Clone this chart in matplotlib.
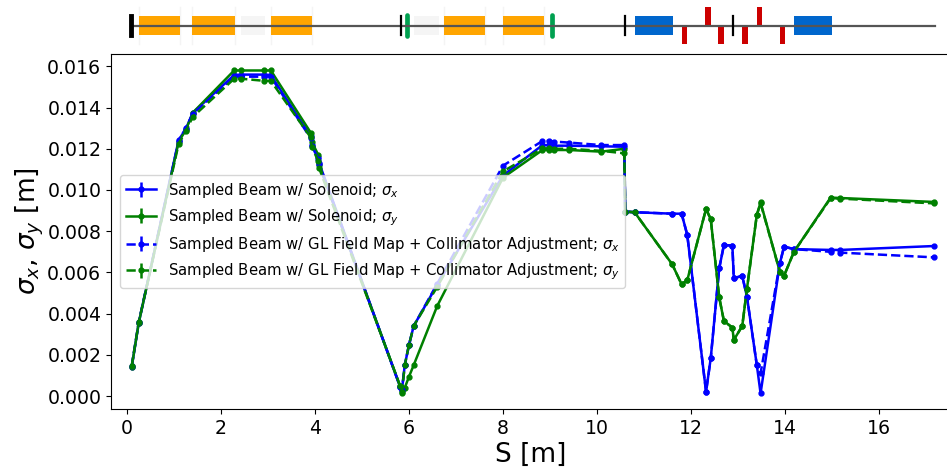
import matplotlib
matplotlib.use("Agg")
import matplotlib.pyplot as plt
from matplotlib.patches import Rectangle

# s positions of the sampled points
s_pos = [0.10, 0.25, 1.10, 1.25, 1.40, 2.28, 2.43, 2.91, 3.06, 3.91, 3.93, 4.07, 4.09,
         5.81, 5.85, 5.91, 6.00, 6.10, 6.60, 8.00, 8.84, 8.98, 9.08, 9.41, 10.09, 10.58,
         10.60, 10.80, 11.60, 11.80, 11.92, 12.32, 12.42, 12.60, 12.70, 12.88, 12.91,
         13.09, 13.19, 13.40, 13.48, 13.89, 13.98, 14.19, 14.97, 15.18, 17.17]

sx_sol = [.00140, .00355, .01243, .01295, .01375, .01558, .01560, .01560, .01558, .01260, .01220, .01160, .01130,
          .00045, .00030, .00150, .00248, .00340, .00540, .01070, .01218, .01218, .01215, .01215, .01212, .01210,
          .00895, .00892, .00885, .00885, .00782, .00021, .00184, .00620, .00733, .00730, .00572,
          .00583, .00482, .00150, .00013, .00644, .00725, .00713, .00709, .00709, .00728]
sy_sol = [.00140, .00355, .01235, .01290, .01375, .01580, .01580, .01580, .01580, .01278, .01235, .01170, .01120,
          .00048, .00015, .00040, .00094, .00150, .00437, .01060, .01194, .01194, .01194, .01194, .01186, .01200,
          .00895, .00892, .00639, .00542, .00562, .00908, .00858, .00479, .00364, .00332, .00272,
          .00340, .00520, .00879, .00940, .00603, .00584, .00700, .00963, .00961, .00942]
sx_gl = [.00145, .00358, .01240, .01300, .01370, .01550, .01550, .01550, .01550, .01250, .01215, .01150, .01125,
         .00045, .00030, .00150, .00248, .00340, .00545, .01118, .01238, .01238, .01235, .01230, .01218, .01218,
         .00895, .00892, .00885, .00885, .00782, .00021, .00184, .00620, .00733, .00730, .00572,
         .00583, .00482, .00150, .00110, .00644, .00725, .00713, .00700, .00696, .00673]
sy_gl = [.00145, .00358, .01225, .01285, .01355, .01540, .01540, .01530, .01530, .01255, .01210, .01140, .01105,
         .00050, .00020, .00150, .00248, .00340, .00530, .01090, .01202, .01202, .01200, .01200, .01190, .01178,
         .00895, .00892, .00639, .00542, .00562, .00908, .00858, .00479, .00364, .00332, .00272,
         .00340, .00520, .00879, .00935, .00603, .00584, .00700, .00960, .00958, .00935]
sig_err = [.00004] * len(s_pos)

labels = ["Sampled Beam w/ Solenoid; $\\sigma_x$",
          "Sampled Beam w/ Solenoid; $\\sigma_y$",
          "Sampled Beam w/ GL Field Map + Collimator Adjustment; $\\sigma_x$",
          "Sampled Beam w/ GL Field Map + Collimator Adjustment; $\\sigma_y$"]
xticks = [0, 2, 4, 6, 8, 10, 12, 14, 16]
yticks = [0.000, 0.002, 0.004, 0.006, 0.008, 0.010, 0.012, 0.014, 0.016]

# beamline elements, start and end in s
dipoles = [(0.26, 1.13), (1.39, 2.30), (3.06, 3.93), (6.75, 7.62), (8.00, 8.87)]
ghosts = [(2.42, 2.94), (6.11, 6.63)]
quads = [(10.81, 11.61), (14.19, 15.00)]
kick_up = [(12.30, 12.42), (13.40, 13.50)]
kick_dn = [(11.80, 11.92), (12.58, 12.70), (13.08, 13.21), (13.89, 14.00)]
solenoids = [5.95, 9.05]
thin_marks = [5.83, 10.60, 12.90]
start_mark = 0.09
line_end = 17.20

W, H = 947, 470
# right edge of the axes runs off the image, reference has no right spine visible
AX_L, AX_R = 111, 950
XMIN, XMAX = -0.34, 17.51
fig = plt.figure(figsize=(W/100, H/100), dpi=100)
ax = fig.add_axes([AX_L/W, 1-409/H, (AX_R-AX_L)/W, (409-54)/H])

colors = ["b", "g", "b", "g"]
styles = ["-", "-", "--", "--"]
series = [sx_sol, sy_sol, sx_gl, sy_gl]
for yy, cc, ls, lab in zip(series, colors, styles, labels):
    ax.errorbar(s_pos, yy, yerr=sig_err, fmt=".", ls=ls, color=cc, lw=1.8, ms=7, label=lab)

ax.set_xlim(XMIN, XMAX)
ax.set_ylim(-0.00063, 0.0166)
ax.set_xticks(xticks)
ax.set_yticks(yticks)
ax.set_yticklabels(["%.3f" % v for v in yticks])
ax.tick_params(labelsize=13.6)
ax.set_xlabel("S [m]", fontsize=19, labelpad=3)
ax.set_ylabel("$\\sigma_x$, $\\sigma_y$ [m]", fontsize=19, labelpad=1)
ax.legend(loc="lower left", bbox_to_anchor=((120-AX_L)/(AX_R-AX_L), (409-288)/355), borderaxespad=0, fontsize=10.7)

# lattice strip above the plot, same s scale, y in pixels from image top
lat = fig.add_axes([AX_L/W, 1-50/H, (AX_R-AX_L)/W, 50/H])
lat.set_xlim(XMIN, XMAX)
lat.set_ylim(50, 0)
lat.axis("off")

for a, b in dipoles:
    lat.add_patch(Rectangle((a, 15.5), b-a, 19.5, color="orange", lw=0))
    for e in (a, b):
        lat.plot([e, e], [7, 44], color="#f4f4f4", lw=1, zorder=0)
for a, b in ghosts:
    lat.add_patch(Rectangle((a, 15.5), b-a, 19.5, color="#f5f5f5", lw=0))
for a, b in quads:
    lat.add_patch(Rectangle((a, 15.5), b-a, 19.5, color="#0066cc", lw=0))
for a, b in kick_up:
    lat.add_patch(Rectangle((a, 7), b-a, 19, color="#cc0000", lw=0))
for a, b in kick_dn:
    lat.add_patch(Rectangle((a, 26), b-a, 18, color="#cc0000", lw=0))
for s in solenoids:
    lat.plot([s, s], [15, 35.5], color="#00a050", lw=3.4, solid_capstyle="round", zorder=2)
lat.plot([start_mark, line_end], [26, 26], color="#555555", lw=1.6, zorder=3)
lat.plot([start_mark, start_mark], [16, 35], color="k", lw=3.5, zorder=4)
for s in thin_marks:
    lat.plot([s, s], [16, 35], color="k", lw=1.6, zorder=4)

fig.savefig("out.png", dpi=100)
